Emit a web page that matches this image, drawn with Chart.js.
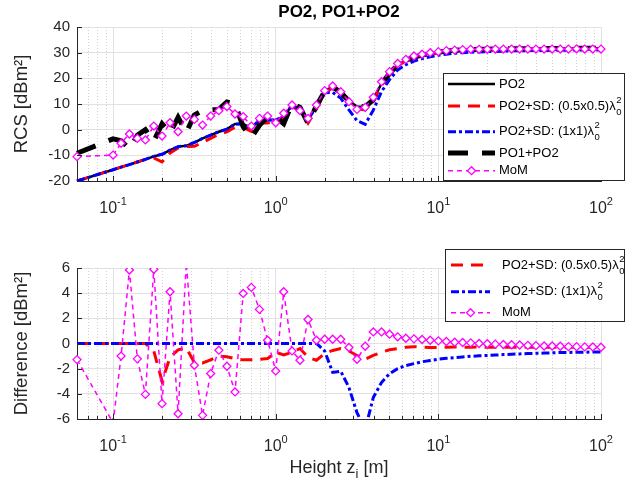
<!DOCTYPE html>
<html>
<head>
<meta charset="utf-8">
<title>PO2, PO1+PO2</title>
<script src="https://cdn.jsdelivr.net/npm/chart.js@4/dist/chart.umd.min.js"></script>
<style>
  html, body { margin: 0; padding: 0; background: #fff; }
  body { width: 626px; height: 491px; position: relative; overflow: hidden; }
  .panel { position: absolute; left: 0; width: 626px; }
  #rcsPanel { top: 0; height: 232px; }
  #diffPanel { top: 232px; height: 259px; }
</style>
</head>
<body>
<div class="panel" id="rcsPanel"><canvas id="rcsChart"></canvas></div>
<div class="panel" id="diffPanel"><canvas id="diffChart"></canvas></div>
<script>
// heights z_i [m]
const heights = [0.06, 0.1, 0.112, 0.126, 0.141, 0.158, 0.178, 0.2, 0.224, 0.251, 0.282, 0.316, 0.355, 0.398, 0.447, 0.501, 0.562, 0.631, 0.708, 0.794, 0.891,
  1, 1.12, 1.26, 1.41, 1.58, 1.78, 2, 2.24, 2.51, 2.82, 3.16, 3.55, 3.98, 4.47, 5.01, 5.62, 6.31, 7.08, 7.94, 8.91,
  10, 11.2, 12.6, 14.1, 15.8, 17.8, 20, 22.4, 25.1, 28.2, 31.6, 35.5, 39.8, 44.7, 50.1, 56.2, 63.1, 70.8, 79.4, 89.1, 100];

// RCS [dBm^2]
const po2 = [-20, -15.6, -14.6, -13.6, -12.6, -11.6, -10.4, -9.6, -8.0, -6.6, -6.3, -5.0, -3.4, -2.1, -0.8, 0.2, 2.2, 2.2, 0.6, 3.8, 3.8,
  3.8, 5.0, 9.6, 7.8, 3.6, 9.4, 15.0, 16.8, 14.5, 11.2, 9.0, 8.9, 11.9, 17.9, 21.9, 25.3, 27.0, 28.3, 29.1, 29.7,
  30.2, 30.6, 30.9, 31.1, 31.2, 31.3, 31.35, 31.4, 31.45, 31.5, 31.5, 31.55, 31.6, 31.6, 31.6, 31.65, 31.65, 31.7, 31.7, 31.7, 31.7];
const po2SdHalf = [-20, -15.6, -14.6, -13.6, -12.6, -11.6, -11.0, -12.6, -9.1, -7.1, -6.6, -6.5, -5.0, -3.4, -1.8, -0.9, 1.0, 0.9, -0.7, 2.6, 2.6,
  3.1, 4.1, 8.9, 7.4, 2.5, 8.1, 14.2, 16.3, 14.1, 10.6, 8.1, 7.7, 11.0, 17.2, 21.4, 24.9, 26.7, 28.1, 28.8, 29.4,
  29.9, 30.3, 30.6, 30.8, 30.9, 31.0, 31.1, 31.1, 31.2, 31.2, 31.2, 31.3, 31.3, 31.3, 31.3, 31.4, 31.4, 31.4, 31.4, 31.4, 31.4];
const po2SdOne = [-20, -15.6, -14.6, -13.6, -12.6, -11.6, -10.4, -9.6, -8.0, -6.6, -6.3, -5.0, -3.4, -2.1, -0.8, 0.2, 2.2, 2.2, 0.6, 3.8, 3.8,
  3.8, 5.0, 9.6, 7.8, 3.6, 9.4, 14.4, 14.5, 12.3, 7.7, 3.5, 2.1, 7.6, 14.8, 19.5, 23.3, 25.3, 26.7, 27.7, 28.4,
  29.0, 29.4, 29.8, 30.0, 30.2, 30.3, 30.4, 30.5, 30.6, 30.7, 30.7, 30.8, 30.8, 30.8, 30.9, 30.9, 30.9, 31.0, 31.0, 31.0, 31.0];
const po1po2 = [-9.2, -3.6, -4.3, -7.5, -2.2, 0.0, -4.5, 2.3, -1.4, 4.8, -1.1, 5.7, 7.5, 7.7, 7.9, 10.8, 10.0, 1.1, -3.1, 1.7, 5.0,
  4.9, 2.3, 10.2, 8.7, 2.5, 9.3, 14.9, 16.7, 14.5, 11.2, 9.2, 8.9, 11.7, 17.8, 21.9, 25.3, 27.0, 28.3, 29.1, 29.7,
  30.2, 30.6, 30.9, 31.1, 31.2, 31.3, 31.35, 31.4, 31.45, 31.5, 31.5, 31.55, 31.6, 31.6, 31.6, 31.65, 31.65, 31.7, 31.7, 31.7, 31.7];
const mom = [-10.5, -9.9, -5.3, -1.7, -3.4, -4.0, 1.4, -2.5, 2.7, -0.8, 5.3, 4.0, 1.8, 5.3, 7.4, 9.0, 6.1, 5.1, 1.4, 4.4, 5.3,
  2.7, 6.4, 9.6, 7.4, 4.4, 9.6, 15.2, 17.0, 14.8, 10.9, 7.9, 8.7, 12.6, 18.7, 22.6, 25.8, 27.4, 28.7, 29.4, 30.0,
  30.4, 30.8, 31.0, 31.2, 31.3, 31.3, 31.3, 31.4, 31.4, 31.4, 31.4, 31.4, 31.4, 31.4, 31.4, 31.4, 31.4, 31.5, 31.4, 31.4, 31.4];

// difference [dBm^2]
const diffSdHalf = [0, 0, 0, 0, 0, 0, -0.6, -3.0, -1.1, -0.5, -0.35, -1.5, -1.55, -1.3, -1.0, -1.05, -1.2, -1.3, -1.3, -1.25, -1.2,
  -0.7, -0.9, -0.7, -0.4, -1.1, -1.33, -0.8, -0.55, -0.4, -0.6, -0.95, -1.25, -0.95, -0.7, -0.5, -0.4, -0.3, -0.25, -0.3, -0.32,
  -0.32, -0.3, -0.28, -0.3, -0.3, -0.28, -0.3, -0.3, -0.3, -0.28, -0.3, -0.3, -0.3, -0.3, -0.3, -0.3, -0.3, -0.3, -0.3, -0.3, -0.3];
const diffSdOne = [0, 0, 0, 0, 0, 0, 0, 0, 0, 0, 0, 0, 0, 0, 0, 0, 0, 0, 0, 0, 0,
  0, 0, 0, 0, 0, 0, -0.6, -2.3, -2.2, -3.5, -5.5, -6.8, -4.3, -3.1, -2.4, -2.0, -1.75, -1.6, -1.45, -1.35,
  -1.25, -1.18, -1.12, -1.07, -1.02, -0.98, -0.95, -0.92, -0.88, -0.85, -0.83, -0.8, -0.78, -0.76, -0.74, -0.72, -0.71, -0.7, -0.69, -0.68, -0.67];
const diffMom = [-1.28, -6.3, -1.0, 5.84, -1.22, -4.04, 5.9, -4.78, 4.11, -5.58, 6.4, -1.73, -5.71, -2.39, -0.53, -1.81, -3.85, 3.98, 4.46, 2.71, 0.26,
  -2.18, 4.11, -0.59, -1.33, 1.91, 0.26, 0.34, 0.34, 0.34, -0.32, -1.25, -0.22, 0.92, 0.92, 0.74, 0.53, 0.42, 0.37, 0.32, 0.26,
  0.21, 0.16, 0.1, 0.08, 0.05, 0.0, -0.02, -0.05, -0.08, -0.1, -0.12, -0.15, -0.17, -0.2, -0.2, -0.22, -0.25, -0.25, -0.27, -0.28, -0.3];

const seriesNames = ['PO2', 'PO2+SD: (0.5x0.5)\u03bb', 'PO2+SD: (1x1)\u03bb', 'PO1+PO2', 'MoM'];
const decadeTicks = [0.1, 1, 10, 100];
const minorTicks = [0.07, 0.08, 0.09, 0.2, 0.3, 0.4, 0.5, 0.6, 0.7, 0.8, 0.9, 2, 3, 4, 5, 6, 7, 8, 9, 20, 30, 40, 50, 60, 70, 80, 90];

const FONT = '"Liberation Sans", Arial, Helvetica, sans-serif';
const AXIS_COLOR = '#262626';
const GRID_COLOR = '#e1e1e1';

Chart.defaults.font.family = FONT;
Chart.defaults.color = AXIS_COLOR;

const toPoints = ys => heights.map((x, i) => ({x: x, y: ys[i]}));

// line styles shared by both panels
const styles = {
  po2:     {borderColor: '#000000', borderWidth: 2.5, borderDash: []},
  sdHalf:  {borderColor: '#ff0000', borderWidth: 3, borderDash: [12, 8]},
  sdOne:   {borderColor: '#0000ff', borderWidth: 3, borderDash: [8, 3, 3, 3]},
  po1po2:  {borderColor: '#000000', borderWidth: 5, borderDash: [20, 14]},
  mom:     {borderColor: '#ff00ff', borderWidth: 1.5, borderDash: [5, 4],
            pointStyle: 'rectRot', pointRadius: 4, pointBorderWidth: 1.3,
            pointBorderColor: '#ff00ff', pointBackgroundColor: '#ffffff'}
};

function series(label, ys, style, order, extra) {
  return Object.assign({
    label: label, data: toPoints(ys), order: order,
    pointRadius: 0, tension: 0, fill: false,
    clip: {left: 6, right: 6, top: 0, bottom: 0}
  }, style, extra || {});
}

function xAxis(height) {
  return {
    type: 'logarithmic', min: 0.06, max: 100,
    afterBuildTicks: s => { s.ticks = decadeTicks.map(v => ({value: v, major: true})); },
    afterFit: s => { s.height = height; },
    ticks: {display: false},
    grid: {color: GRID_COLOR, drawTicks: false},
    border: {color: AXIS_COLOR, width: 1}
  };
}

function yAxis(min, max, step, title) {
  return {
    min: min, max: max,
    afterFit: s => { s.width = 77; },
    ticks: {stepSize: step, padding: 7, color: AXIS_COLOR, font: {size: 15}},
    grid: {color: GRID_COLOR, drawTicks: false},
    border: {color: AXIS_COLOR, width: 1},
    title: {display: true, text: title, color: AXIS_COLOR, font: {size: 18.5}, padding: {top: 11, bottom: 0}}
  };
}

function drawLegend(chart, lg) {
  const ctx = chart.ctx;
  ctx.save();
  ctx.fillStyle = '#ffffff';
  ctx.fillRect(lg.x, lg.y, lg.w, lg.h);
  ctx.strokeStyle = AXIS_COLOR;
  ctx.lineWidth = 1;
  ctx.setLineDash([]);
  ctx.strokeRect(lg.x + 0.5, lg.y + 0.5, lg.w, lg.h);
  lg.rows.forEach(row => {
    const ds = chart.data.datasets[row.dataset];
    const ly = lg.y + row.dy;
    ctx.strokeStyle = ds.borderColor;
    ctx.lineWidth = ds.borderWidth;
    ctx.setLineDash(ds.borderDash || []);
    ctx.beginPath();
    ctx.moveTo(lg.x + lg.sampleFrom, ly);
    ctx.lineTo(lg.x + lg.sampleTo, ly);
    ctx.stroke();
    ctx.setLineDash([]);
    if (ds.pointRadius) {
      const cx = lg.x + (lg.sampleFrom + lg.sampleTo) / 2, r = ds.pointRadius;
      ctx.fillStyle = ds.pointBackgroundColor;
      ctx.strokeStyle = ds.pointBorderColor;
      ctx.lineWidth = ds.pointBorderWidth;
      ctx.beginPath();
      ctx.moveTo(cx, ly - r); ctx.lineTo(cx + r, ly); ctx.lineTo(cx, ly + r); ctx.lineTo(cx - r, ly);
      ctx.closePath(); ctx.fill(); ctx.stroke();
    }
    ctx.fillStyle = '#000000';
    ctx.textAlign = 'left';
    ctx.textBaseline = 'middle';
    ctx.font = '13px ' + FONT;
    const tx = lg.x + lg.textX;
    ctx.fillText(ds.label, tx, ly);
    if (ds.wavelengthUnit) {
      const tw = ctx.measureText(ds.label).width;
      ctx.font = '9.5px ' + FONT;
      ctx.fillText('2', tx + tw + 0.5, ly - 6);
      ctx.fillText('0', tx + tw + 0.5, ly + 6);
    }
  });
  ctx.restore();
}

// MATLAB-like decorations: dotted minor grid, inward ticks, 10^n labels, legend box
const matlabAxes = {
  id: 'matlabAxes',
  beforeDatasetsDraw(chart) {
    const ctx = chart.ctx, a = chart.chartArea, x = chart.scales.x;
    ctx.save();
    ctx.strokeStyle = '#d2d2d2';
    ctx.lineWidth = 1;
    ctx.setLineDash([1, 2]);
    minorTicks.forEach(v => {
      const px = Math.round(x.getPixelForValue(v)) + 0.5;
      ctx.beginPath();
      ctx.moveTo(px, a.top);
      ctx.lineTo(px, a.bottom);
      ctx.stroke();
    });
    ctx.restore();
  },
  afterDraw(chart, args, opts) {
    const ctx = chart.ctx, a = chart.chartArea, x = chart.scales.x, y = chart.scales.y;
    ctx.save();
    ctx.strokeStyle = AXIS_COLOR;
    ctx.lineWidth = 1;
    ctx.setLineDash([]);
    ctx.beginPath();
    minorTicks.forEach(v => {
      const px = Math.round(x.getPixelForValue(v)) + 0.5;
      ctx.moveTo(px, a.bottom); ctx.lineTo(px, a.bottom - 3);
    });
    decadeTicks.forEach(v => {
      const px = Math.round(x.getPixelForValue(v)) + 0.5;
      ctx.moveTo(px, a.bottom); ctx.lineTo(px, a.bottom - 5);
    });
    y.ticks.forEach(t => {
      const py = Math.round(y.getPixelForValue(t.value)) + 0.5;
      ctx.moveTo(a.left, py); ctx.lineTo(a.left + 5, py);
    });
    ctx.stroke();

    ctx.fillStyle = AXIS_COLOR;
    ctx.textAlign = 'left';
    ctx.textBaseline = 'alphabetic';
    decadeTicks.forEach(v => {
      const exp = String(Math.round(Math.log10(v)));
      ctx.font = '16px ' + FONT;
      const wb = ctx.measureText('10').width;
      ctx.font = '11px ' + FONT;
      const we = ctx.measureText(exp).width;
      const left = x.getPixelForValue(v) - (wb + we) / 2;
      const base = a.bottom + 32;
      ctx.font = '16px ' + FONT;
      ctx.fillText('10', left, base);
      ctx.font = '11px ' + FONT;
      ctx.fillText(exp, left + wb, base - 8);
    });

    if (opts.xTitle) {
      const parts = ['Height z', 'i', ' [m]'];
      ctx.font = '18px ' + FONT;
      const w0 = ctx.measureText(parts[0]).width, w2 = ctx.measureText(parts[2]).width;
      ctx.font = '13px ' + FONT;
      const w1 = ctx.measureText(parts[1]).width;
      let tx = (a.left + a.right) / 2 - (w0 + w1 + w2) / 2;
      const base = a.bottom + 54;
      ctx.font = '18px ' + FONT;
      ctx.fillText(parts[0], tx, base);
      tx += w0;
      ctx.font = '13px ' + FONT;
      ctx.fillText(parts[1], tx, base + 5);
      tx += w1;
      ctx.font = '18px ' + FONT;
      ctx.fillText(parts[2], tx, base);
    }
    ctx.restore();
    if (opts.legend) drawLegend(chart, opts.legend);
  }
};

new Chart(document.getElementById('rcsChart'), {
  type: 'line',
  data: {
    datasets: [
      series(seriesNames[0], po2, styles.po2, 4),
      series(seriesNames[1], po2SdHalf, styles.sdHalf, 3, {wavelengthUnit: true}),
      series(seriesNames[2], po2SdOne, styles.sdOne, 2, {wavelengthUnit: true}),
      series(seriesNames[3], po1po2, styles.po1po2, 1),
      series(seriesNames[4], mom, styles.mom, 0)
    ]
  },
  options: {
    responsive: true,
    maintainAspectRatio: false,
    animation: false,
    layout: {padding: {left: 0, right: 25, top: 0, bottom: 0}},
    scales: {
      x: xAxis(51),
      y: yAxis(-20, 40, 10, 'RCS [dBm\u00b2]')
    },
    plugins: {
      legend: {display: false},
      tooltip: {enabled: false},
      title: {
        display: true, text: 'PO2, PO1+PO2', fullSize: false, color: '#000000',
        font: {size: 17, weight: 'bold'}, padding: {top: 2, bottom: 4.6}
      },
      matlabAxes: {
        legend: {
          x: 443, y: 73, w: 181, h: 107, sampleFrom: 5, sampleTo: 52, textX: 56,
          rows: [{dataset: 0, dy: 11}, {dataset: 1, dy: 33}, {dataset: 2, dy: 58.7}, {dataset: 3, dy: 80}, {dataset: 4, dy: 97.7}]
        }
      }
    }
  },
  plugins: [matlabAxes]
});

new Chart(document.getElementById('diffChart'), {
  type: 'line',
  data: {
    datasets: [
      series(seriesNames[1], diffSdHalf, styles.sdHalf, 2, {wavelengthUnit: true}),
      series(seriesNames[2], diffSdOne, styles.sdOne, 1, {wavelengthUnit: true}),
      series(seriesNames[4], diffMom, styles.mom, 0)
    ]
  },
  options: {
    responsive: true,
    maintainAspectRatio: false,
    animation: false,
    layout: {padding: {left: 0, right: 25, top: 36, bottom: 0}},
    scales: {
      x: xAxis(72),
      y: yAxis(-6, 6, 2, 'Difference [dBm\u00b2]')
    },
    plugins: {
      legend: {display: false},
      tooltip: {enabled: false},
      matlabAxes: {
        xTitle: true,
        legend: {
          x: 445, y: 17, w: 179, h: 72, sampleFrom: 6, sampleTo: 45, textX: 57,
          rows: [{dataset: 0, dy: 16}, {dataset: 1, dy: 42.7}, {dataset: 2, dy: 63.7}]
        }
      }
    }
  },
  plugins: [matlabAxes]
});
</script>
</body>
</html>
